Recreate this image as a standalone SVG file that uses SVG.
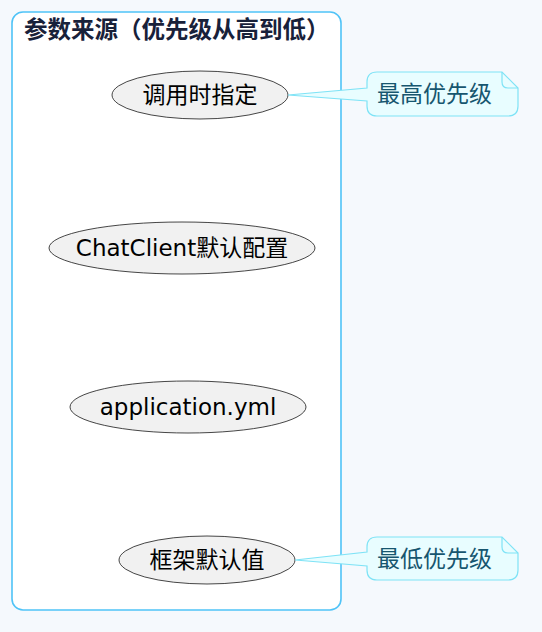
<svg xmlns="http://www.w3.org/2000/svg" width="542" height="632" viewBox="0 0 542 632">
<style>
.uc ellipse{fill:#F1F1F1;stroke:#181818;stroke-width:0.8}
.uc text{font-family:"DejaVu Sans","Noto Sans CJK SC",sans-serif;font-size:23px;fill:#000;text-anchor:middle}
.note path.body{fill:#E8FDFF;stroke:#7FE3F6;stroke-width:1.2}
.note path.fold{fill:none;stroke:#7FE3F6;stroke-width:1.2}
.note text{font-family:"DejaVu Sans","Noto Sans CJK SC",sans-serif;font-size:23px;fill:#17566F}
.title{font-family:"Noto Sans CJK SC",sans-serif;font-size:23.5px;font-weight:bold;fill:#18213A}
</style>
<rect width="542" height="632" fill="#F5F9FD"/>
<g id="package">
<rect x="12" y="12" width="329" height="598" rx="11" fill="#FFFFFF" stroke="#4FC3F7" stroke-width="1.6"/>
<text class="title" x="24" y="38">参数来源（优先级从高到低）</text>
</g>
<g id="connectors"></g>
<g id="uc1" class="uc"><ellipse cx="200" cy="95" rx="88" ry="24"/><text x="200" y="103">调用时指定</text></g>
<g id="uc2" class="uc"><ellipse cx="182" cy="248" rx="133" ry="26"/><text x="182" y="256">ChatClient默认配置</text></g>
<g id="uc3" class="uc"><ellipse cx="188" cy="407" rx="118" ry="26"/><text x="188" y="415">application.yml</text></g>
<g id="uc4" class="uc"><ellipse cx="207" cy="560" rx="88" ry="24"/><text x="207" y="568">框架默认值</text></g>
<g id="note1" class="note">
<path class="body" d="M377,72 L502,72 L518,88 L518,106 Q518,116 508,116 L377,116 Q367,116 367,106 L367,101 L288,95 L367,88 L367,82 Q367,72 377,72 Z"/>
<path class="fold" d="M502,72 L502,82 Q502,88 508,88 L518,88"/>
<text x="377" y="102">最高优先级</text>
</g>
<g id="note2" class="note">
<path class="body" d="M377,537 L502,537 L518,553 L518,570 Q518,580 508,580 L377,580 Q367,580 367,570 L367,566 L295,560 L367,552 L367,547 Q367,537 377,537 Z"/>
<path class="fold" d="M502,537 L502,547 Q502,553 508,553 L518,553"/>
<text x="377" y="567">最低优先级</text>
</g>
</svg>
